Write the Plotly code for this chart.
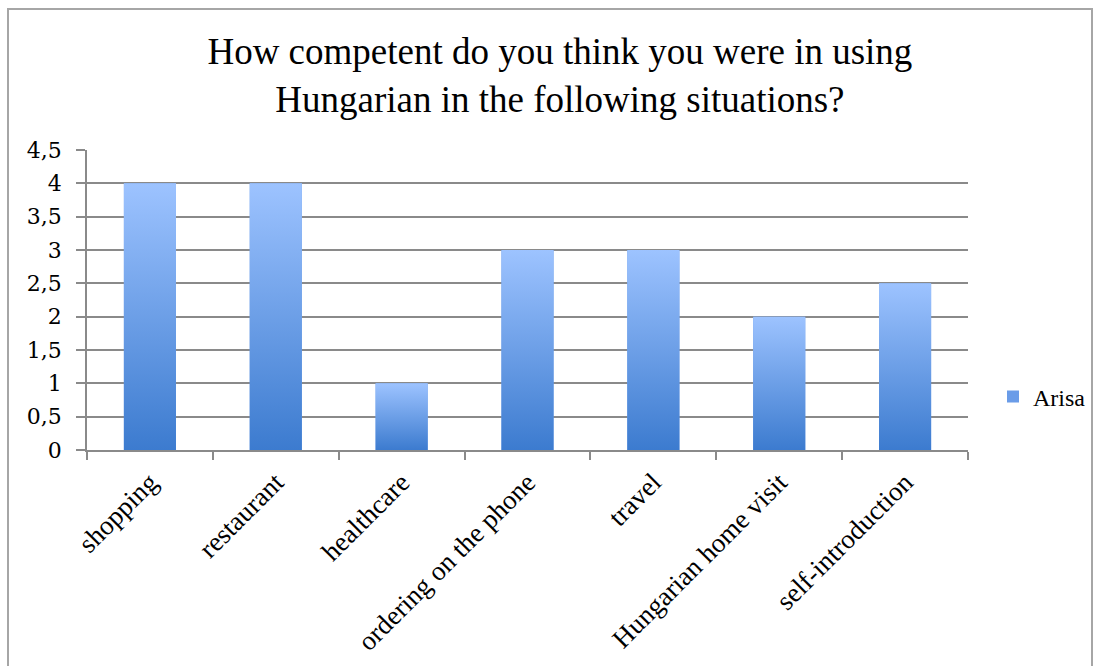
import plotly.graph_objects as go

# Survey answers for one respondent
categories = ["shopping", "restaurant", "healthcare", "ordering on the phone",
              "travel", "Hungarian home visit", "self-introduction"]
scores = [4, 4, 1, 3, 3, 2, 2.5]
series_name = "Arisa"
y_ticks = [0, 0.5, 1, 1.5, 2, 2.5, 3, 3.5, 4, 4.5]

W, H = 1100, 666
L, R, T, B = 87, 132, 150, 216
BAR_HALF = 0.207
LIGHT, DARK = "#9dc3ff", "#3c7bcf"
MID = "#6a9ce8"
GRID = "#8a8a8a"
SERIF = "Liberation Serif"
NUM_FONT = "DejaVu Serif"


def px_to_paper_x(px):
    return (px - L) / (W - L - R)


def px_to_paper_y(py):
    return (H - B - py) / (H - T - B)


fig = go.Figure()

# Base bars: set up the category axis and provide the legend swatch
fig.add_trace(go.Bar(x=categories, y=scores, marker=dict(color=MID, line_width=0),
                     name=series_name, hoverinfo="skip", width=2 * BAR_HALF))

# Each bar repainted as a filled polygon with its own vertical gradient
for i, v in enumerate(scores):
    xs = [i - BAR_HALF, i + BAR_HALF, i + BAR_HALF, i - BAR_HALF, i - BAR_HALF]
    ys = [0, 0, v, v, 0]
    fig.add_trace(go.Scatter(
        x=xs, y=ys, xaxis="x2", mode="none", fill="toself",
        fillgradient=dict(type="vertical", colorscale=[[0, DARK], [1, LIGHT]]),
        showlegend=False, hoverinfo="skip"))

fig.update_layout(
    width=W, height=H,
    margin=dict(l=L, r=R, t=T, b=B, autoexpand=False),
    paper_bgcolor="white", plot_bgcolor="white",
    separators=", ",
    font=dict(family=SERIF, color="black"),
    title=dict(
        text="How competent do you think you were in using<br>Hungarian in the following situations?",
        font=dict(family=SERIF, size=37, color="black"),
        x=0.509, xanchor="center", xref="container",
        y=1 - 64 / H, yanchor="top", yref="container"),
    xaxis=dict(
        type="category", tickson="boundaries", ticks="outside", ticklen=8,
        tickwidth=1.5, tickcolor=GRID, showline=True, linecolor=GRID, linewidth=1.5,
        showgrid=False, tickangle=-45, range=[-0.5, len(categories) - 0.5],
        ticklabelstandoff=4,
        tickfont=dict(family=SERIF, size=27, color="black")),
    xaxis2=dict(overlaying="x", range=[-0.5, len(categories) - 0.5], visible=False),
    yaxis=dict(
        range=[0, 4.5], tickvals=y_ticks, ticks="outside", ticklen=9, tickwidth=1.5,
        tickcolor=GRID, showline=True, linecolor=GRID, linewidth=1.5,
        showgrid=True, gridcolor=GRID, gridwidth=1.5, zeroline=False,
        ticklabelstandoff=10,
        tickfont=dict(family=NUM_FONT, size=22, color="black")),
    legend=dict(x=px_to_paper_x(993), y=px_to_paper_y(397), xanchor="left", yanchor="middle",
                font=dict(family=SERIF, size=24, color="black"),
                bgcolor="rgba(0,0,0,0)", itemwidth=30),
    shapes=[dict(type="rect", xref="paper", yref="paper",
                 x0=px_to_paper_x(8), x1=px_to_paper_x(1092),
                 y0=px_to_paper_y(700), y1=px_to_paper_y(9),
                 line=dict(color="#a6a6a6", width=2), layer="below")],
)

fig.write_html("out.html")
